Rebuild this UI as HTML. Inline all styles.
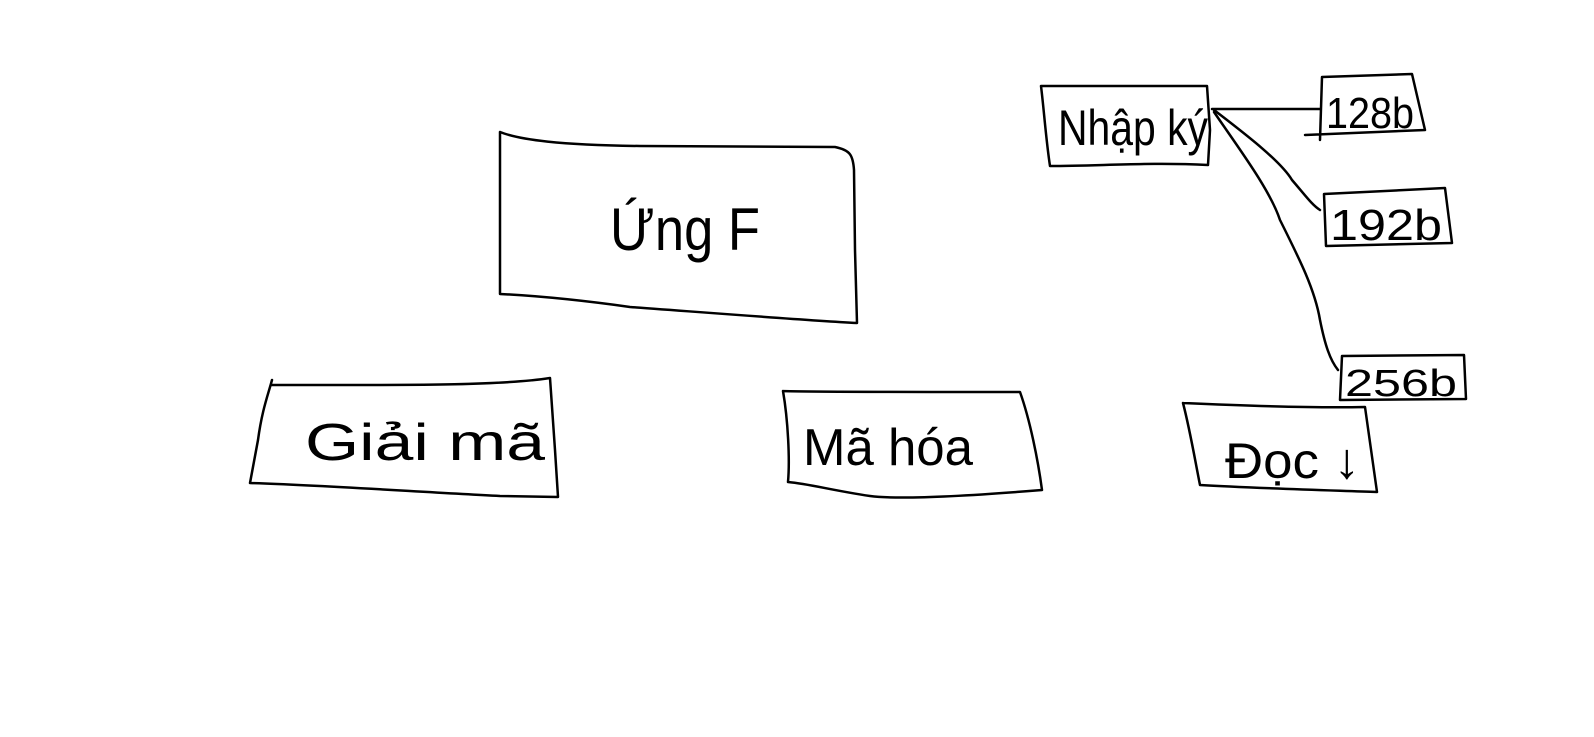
<!DOCTYPE html>
<html><head><meta charset="utf-8">
<style>
html,body{margin:0;padding:0;background:#fff;}
svg{display:block;}
text{font-family:"Liberation Sans","DejaVu Sans",sans-serif;fill:#000;}
.b{fill:none;stroke:#000;stroke-width:2.5;stroke-linecap:round;stroke-linejoin:round;}
</style></head>
<body>
<svg width="1594" height="737" viewBox="0 0 1594 737">
<rect width="1594" height="737" fill="#fff"/>

<g>
<path class="b" d="M500,132 C520,140 560,145 640,146 L835,147 C850,150 853,155 854,170 L855,250 L857,323 C800,320 700,312 630,307 C580,300 540,296 500,294 L500,132"/>
<text x="610" y="250" font-size="60" textLength="150" lengthAdjust="spacingAndGlyphs" font-weight="100">Ứng  F</text>
</g>

<g>
<path class="b" d="M272,380 C268,395 262,410 258,440 L250,483 C320,485 420,492 500,496 L558,497 L555,450 L550,378 C500,386 400,385 272,385"/>
<text x="305" y="460" font-size="52" textLength="240" lengthAdjust="spacingAndGlyphs">Giải   mã</text>
</g>

<g>
<path class="b" d="M783,391 C800,392 900,392 1020,392 C1030,420 1038,460 1042,490 C980,495 900,500 870,496 C830,490 810,484 788,482 C790,460 788,420 783,391"/>
<text x="803" y="465" font-size="52" textLength="170" lengthAdjust="spacingAndGlyphs">Mã hóa</text>
</g>

<g>
<path class="b" d="M1041,86 L1207,86 L1210,130 L1208,165 C1150,162 1100,166 1050,166 C1046,140 1044,110 1041,86"/>
<text x="1058" y="145" font-size="50" textLength="150" lengthAdjust="spacingAndGlyphs">Nhập ký</text>
</g>

<g>
<path class="b" d="M1212,109 L1320,109"/>
<path class="b" d="M1214,110 C1240,130 1280,160 1292,180 C1305,195 1312,205 1320,210"/>
<path class="b" d="M1214,112 C1240,150 1270,190 1280,220 C1300,260 1315,290 1320,320 C1325,345 1330,360 1338,370"/>
</g>

<g>
<path class="b" d="M1322,77 L1412,74 L1425,130 L1305,135 M1322,77 L1320,140"/>
<text x="1326" y="128" font-size="44" textLength="88" lengthAdjust="spacingAndGlyphs">128b</text>
</g>

<g>
<path class="b" d="M1324,194 L1445,188 L1452,243 L1326,246 Z"/>
<text x="1330" y="240" font-size="44" textLength="112" lengthAdjust="spacingAndGlyphs">192b</text>
</g>

<g>
<path class="b" d="M1342,356 L1464,355 L1466,399 L1340,400 Z"/>
<text x="1345" y="396" font-size="38" textLength="112" lengthAdjust="spacingAndGlyphs">256b</text>
</g>

<g>
<path class="b" d="M1183,403 C1250,406 1320,408 1365,407 L1377,492 C1320,490 1250,488 1200,485 C1195,460 1190,430 1183,403"/>
<text x="1225" y="478" font-size="50" textLength="135" lengthAdjust="spacingAndGlyphs">Đọc  ↓</text>
</g>
</svg>
</body></html>
